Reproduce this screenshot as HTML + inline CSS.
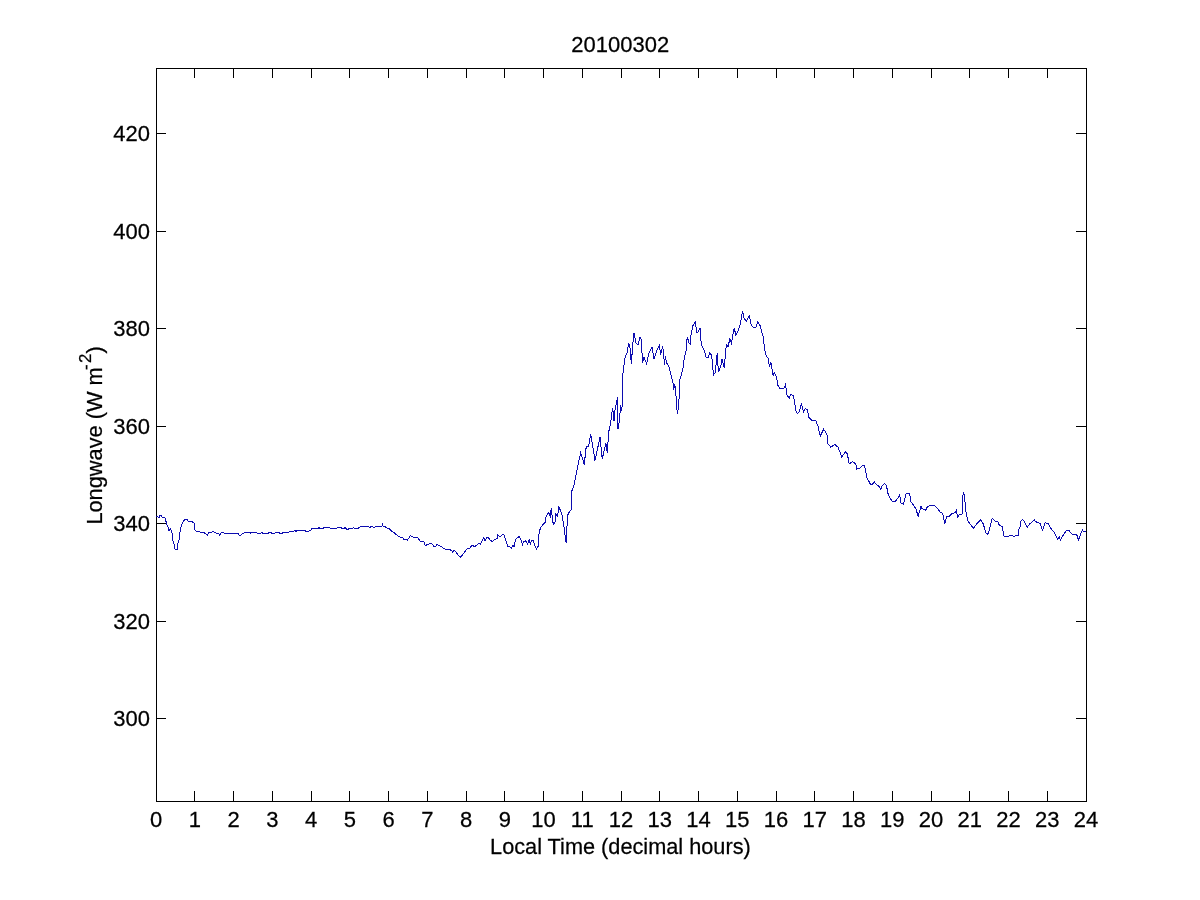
<!DOCTYPE html><html><head><meta charset="utf-8"><style>html,body{margin:0;padding:0;background:#fff;width:1200px;height:900px;overflow:hidden}svg{display:block;will-change:transform}text{font-family:"Liberation Sans",sans-serif;fill:#000;stroke:#000;stroke-width:0.25px}</style></head><body>
<svg width="1200" height="900" viewBox="0 0 1200 900">
<rect x="0" y="0" width="1200" height="900" fill="#fff"/>
<g fill="#000" shape-rendering="crispEdges"><rect x="156" y="68" width="931" height="1"/><rect x="156" y="801" width="931" height="1"/><rect x="156" y="68" width="1" height="734"/><rect x="1086" y="68" width="1" height="734"/><rect x="194" y="68" width="1" height="10"/><rect x="194" y="791" width="1" height="11"/><rect x="233" y="68" width="1" height="10"/><rect x="233" y="791" width="1" height="11"/><rect x="272" y="68" width="1" height="10"/><rect x="272" y="791" width="1" height="11"/><rect x="311" y="68" width="1" height="10"/><rect x="311" y="791" width="1" height="11"/><rect x="349" y="68" width="1" height="10"/><rect x="349" y="791" width="1" height="11"/><rect x="388" y="68" width="1" height="10"/><rect x="388" y="791" width="1" height="11"/><rect x="427" y="68" width="1" height="10"/><rect x="427" y="791" width="1" height="11"/><rect x="466" y="68" width="1" height="10"/><rect x="466" y="791" width="1" height="11"/><rect x="504" y="68" width="1" height="10"/><rect x="504" y="791" width="1" height="11"/><rect x="543" y="68" width="1" height="10"/><rect x="543" y="791" width="1" height="11"/><rect x="582" y="68" width="1" height="10"/><rect x="582" y="791" width="1" height="11"/><rect x="621" y="68" width="1" height="10"/><rect x="621" y="791" width="1" height="11"/><rect x="659" y="68" width="1" height="10"/><rect x="659" y="791" width="1" height="11"/><rect x="698" y="68" width="1" height="10"/><rect x="698" y="791" width="1" height="11"/><rect x="737" y="68" width="1" height="10"/><rect x="737" y="791" width="1" height="11"/><rect x="776" y="68" width="1" height="10"/><rect x="776" y="791" width="1" height="11"/><rect x="814" y="68" width="1" height="10"/><rect x="814" y="791" width="1" height="11"/><rect x="853" y="68" width="1" height="10"/><rect x="853" y="791" width="1" height="11"/><rect x="892" y="68" width="1" height="10"/><rect x="892" y="791" width="1" height="11"/><rect x="931" y="68" width="1" height="10"/><rect x="931" y="791" width="1" height="11"/><rect x="969" y="68" width="1" height="10"/><rect x="969" y="791" width="1" height="11"/><rect x="1008" y="68" width="1" height="10"/><rect x="1008" y="791" width="1" height="11"/><rect x="1047" y="68" width="1" height="10"/><rect x="1047" y="791" width="1" height="11"/><rect x="156" y="133" width="10" height="1"/><rect x="1076" y="133" width="11" height="1"/><rect x="156" y="231" width="10" height="1"/><rect x="1076" y="231" width="11" height="1"/><rect x="156" y="328" width="10" height="1"/><rect x="1076" y="328" width="11" height="1"/><rect x="156" y="426" width="10" height="1"/><rect x="1076" y="426" width="11" height="1"/><rect x="156" y="523" width="10" height="1"/><rect x="1076" y="523" width="11" height="1"/><rect x="156" y="621" width="10" height="1"/><rect x="1076" y="621" width="11" height="1"/><rect x="156" y="718" width="10" height="1"/><rect x="1076" y="718" width="11" height="1"/></g>
<path d="M156.00 516.25 L157.00 516.00 L158.00 517.00 L159.50 517.00 L160.00 515.50 L161.50 515.50 L161.75 517.00 L164.75 517.50 L165.50 518.50 L165.75 521.00 L166.50 522.00 L166.75 524.50 L167.75 526.00 L168.75 530.00 L169.75 530.00 L170.25 528.50 L171.50 530.50 L172.25 534.00 L172.75 540.50 L173.75 542.00 L174.50 548.50 L176.25 550.00 L177.50 549.00 L177.75 543.50 L179.25 539.50 L179.75 533.50 L180.75 529.00 L181.25 525.50 L182.25 523.50 L184.00 520.50 L184.75 519.25 L187.25 519.50 L188.00 521.25 L191.50 521.25 L192.70 522.30 L194.30 523.00 L194.70 529.70 L196.30 531.30 L199.30 531.30 L200.30 532.30 L204.00 532.70 L206.00 533.70 L207.30 535.30 L208.70 532.70 L212.00 532.00 L213.30 531.30 L215.00 532.70 L218.70 533.70 L219.70 535.30 L221.30 532.30 L223.30 532.30 L224.70 533.50 L238.00 533.50 L239.00 535.30 L240.70 535.30 L242.70 533.70 L244.70 532.30 L249.70 532.30 L250.70 533.30 L251.70 532.30 L256.70 532.30 L257.30 533.50 L260.70 533.50 L262.00 532.30 L263.00 533.50 L268.00 533.30 L270.00 532.30 L272.00 533.30 L274.70 533.30 L276.00 532.30 L278.70 532.30 L280.00 533.50 L282.00 533.50 L282.70 532.30 L288.70 532.30 L289.70 531.30 L294.00 531.30 L294.70 530.30 L295.70 531.50 L297.30 530.30 L304.70 530.30 L305.70 531.30 L308.70 531.30 L310.70 530.30 L311.70 528.30 L318.00 528.30 L319.00 527.50 L320.00 528.30 L323.30 528.30 L324.30 527.50 L329.30 527.50 L330.30 528.30 L336.70 528.30 L337.70 527.50 L340.70 527.50 L342.00 528.50 L344.00 528.50 L344.70 527.50 L346.00 528.30 L347.30 530.00 L348.70 528.70 L352.70 528.30 L353.30 527.50 L354.70 528.50 L357.70 528.50 L360.70 526.30 L368.00 526.30 L369.70 527.50 L371.30 526.30 L374.00 527.50 L376.70 526.30 L382.00 526.00 L382.30 524.30 L383.00 526.00 L384.70 526.30 L386.00 527.50 L389.30 528.70 L392.70 532.00 L394.00 532.30 L395.30 533.70 L398.00 536.00 L401.30 538.00 L402.70 537.70 L404.00 539.30 L406.00 539.30 L407.30 540.30 L410.30 535.70 L413.30 537.00 L417.70 537.30 L420.00 541.00 L424.00 541.70 L424.50 545.00 L426.00 545.30 L428.00 544.30 L430.70 543.30 L432.70 544.30 L433.70 546.30 L435.70 546.30 L436.70 544.70 L438.30 545.00 L441.30 546.70 L445.30 549.30 L448.70 549.30 L451.30 550.30 L452.70 552.30 L454.00 550.30 L456.00 552.00 L459.30 556.70 L460.30 557.30 L462.00 555.70 L464.70 552.00 L466.70 549.00 L470.00 548.00 L472.00 545.00 L474.70 546.70 L476.70 545.00 L479.30 543.30 L480.30 544.30 L483.70 537.30 L485.00 540.70 L486.70 537.30 L488.30 537.70 L490.00 540.00 L492.30 541.70 L494.00 539.70 L497.00 538.70 L497.70 534.70 L499.00 536.00 L500.70 536.70 L502.00 535.00 L503.40 534.20 L504.50 536.10 L505.90 540.60 L507.00 544.40 L507.60 546.70 L509.20 546.10 L511.40 548.30 L513.10 545.00 L514.00 546.70 L515.00 542.20 L515.90 538.90 L517.60 537.80 L519.20 536.40 L520.90 539.40 L522.60 544.40 L523.10 542.20 L525.30 540.60 L527.60 543.90 L529.20 540.00 L530.30 543.90 L532.00 540.00 L533.70 540.00 L534.20 544.40 L536.40 548.90 L538.40 546.10 L538.70 535.00 L540.30 528.30 L542.60 525.00 L545.30 522.20 L545.30 520.00 L546.40 515.60 L548.70 512.80 L550.30 516.10 L551.20 508.30 L552.00 515.00 L552.60 521.70 L553.70 523.90 L555.30 521.70 L555.90 514.40 L557.60 516.10 L558.10 512.20 L558.90 506.70 L561.80 514.00 L564.00 527.00 L566.10 542.80 L567.60 515.40 L569.00 512.50 L571.20 509.60 L571.90 490.80 L574.00 485.00 L577.70 466.20 L580.60 453.20 L582.70 459.00 L584.20 464.80 L586.30 446.00 L588.50 446.70 L590.70 433.70 L595.00 460.50 L600.00 437.30 L602.20 459.00 L605.90 443.10 L607.30 453.20 L608.70 432.00 L610.70 422.70 L612.00 412.00 L612.70 408.00 L614.00 421.30 L615.30 406.70 L616.70 402.70 L617.30 396.70 L618.00 429.30 L619.30 421.30 L620.70 405.30 L621.70 410.70 L622.70 398.70 L623.00 373.30 L624.70 358.70 L627.30 352.00 L628.70 342.70 L630.00 348.00 L631.30 364.00 L632.70 345.30 L634.00 332.70 L636.00 343.30 L638.00 345.30 L640.00 336.70 L641.30 340.00 L642.00 353.30 L642.70 362.70 L644.00 357.30 L646.70 364.00 L648.70 353.30 L652.00 346.70 L654.00 358.70 L656.70 350.70 L659.30 345.30 L660.70 354.70 L662.70 346.00 L664.70 365.30 L665.20 356.50 L667.10 363.80 L668.90 366.20 L671.30 376.00 L673.20 383.30 L673.80 389.50 L674.40 384.60 L675.60 387.00 L676.20 400.50 L677.40 413.90 L678.70 405.40 L679.90 379.70 L681.10 376.00 L682.30 371.10 L683.60 365.00 L684.20 357.70 L686.00 351.60 L687.20 336.90 L689.10 343.00 L690.30 344.20 L690.90 335.70 L692.70 325.90 L695.20 322.20 L697.00 333.20 L699.50 329.60 L700.00 328.30 L701.30 344.20 L704.30 350.30 L706.20 357.70 L708.00 357.70 L709.80 352.80 L711.70 355.20 L713.50 374.80 L715.30 372.30 L717.20 352.80 L718.40 372.30 L721.50 363.80 L722.00 358.90 L724.20 367.80 L725.30 355.60 L726.40 344.40 L728.10 346.70 L729.80 338.90 L731.40 343.30 L734.20 327.80 L735.90 335.60 L738.10 331.10 L740.30 324.40 L742.60 311.10 L744.20 318.90 L746.40 321.10 L749.20 315.60 L751.40 325.60 L754.20 327.80 L755.90 327.20 L757.60 321.70 L760.30 326.10 L763.10 336.70 L764.80 350.00 L766.40 356.70 L768.70 358.90 L769.20 366.70 L770.90 362.20 L773.10 375.60 L774.20 372.20 L776.40 376.70 L778.00 385.60 L780.20 388.90 L784.70 387.80 L785.80 383.30 L786.30 393.90 L789.10 398.30 L790.80 394.40 L793.60 396.10 L796.30 412.80 L798.00 413.30 L799.70 410.60 L801.30 403.90 L803.60 411.70 L805.20 408.90 L807.40 409.40 L808.60 417.20 L811.30 420.00 L815.80 420.60 L818.00 426.10 L820.20 436.10 L823.60 429.40 L826.90 433.90 L828.00 443.90 L830.80 447.20 L834.70 444.40 L838.00 447.20 L841.90 457.20 L845.20 451.70 L847.40 453.90 L849.10 463.90 L852.40 461.70 L855.80 463.90 L856.80 469.00 L859.50 468.60 L862.20 465.50 L864.60 465.50 L866.10 473.70 L866.90 477.60 L870.40 484.20 L872.30 484.20 L874.30 481.80 L876.20 484.50 L879.30 486.50 L880.90 489.20 L882.00 486.10 L884.40 483.40 L886.70 486.10 L887.50 492.30 L890.20 498.50 L892.90 502.00 L895.70 500.90 L898.80 497.00 L899.50 493.90 L901.10 503.20 L903.40 504.40 L906.20 493.50 L909.70 493.50 L910.80 501.70 L912.00 503.20 L915.90 508.70 L918.20 516.40 L920.90 506.30 L922.10 508.70 L926.00 510.20 L927.50 506.30 L934.00 505.30 L936.00 506.70 L939.30 510.70 L940.70 512.70 L942.70 513.30 L944.70 524.00 L947.00 516.00 L949.30 516.30 L952.00 513.30 L955.30 512.70 L956.30 510.70 L957.70 517.00 L960.00 514.00 L962.00 514.70 L962.70 497.30 L963.30 492.30 L964.30 495.30 L965.00 502.00 L966.00 512.00 L968.00 521.30 L973.30 528.30 L977.30 523.30 L980.70 520.00 L983.30 524.00 L986.00 533.30 L987.70 534.30 L989.30 530.00 L992.30 518.30 L995.30 521.30 L998.00 521.70 L999.30 525.30 L1002.00 526.30 L1004.00 536.00 L1006.00 537.00 L1008.70 536.00 L1012.00 535.40 L1014.00 536.40 L1015.90 535.40 L1018.20 535.40 L1018.50 529.90 L1020.50 526.00 L1020.80 521.10 L1022.40 519.50 L1024.40 521.50 L1027.30 527.30 L1029.60 524.10 L1032.80 521.10 L1034.40 519.50 L1035.40 521.50 L1038.00 522.80 L1040.00 523.40 L1042.60 530.20 L1045.20 522.80 L1048.40 523.70 L1051.70 529.90 L1054.30 532.50 L1057.50 539.00 L1059.50 537.10 L1060.40 540.30 L1064.00 533.80 L1066.60 530.20 L1069.20 530.90 L1072.50 534.50 L1075.70 534.10 L1077.30 535.80 L1078.30 540.30 L1081.60 531.90 L1082.50 530.00 L1083.50 531.50 L1086.00 531.50" fill="none" stroke="#0c0cb0" stroke-width="1" stroke-linejoin="miter" shape-rendering="crispEdges"/>
<text transform="translate(156.00,827.00) scale(1.0,1.02)" font-size="22" text-anchor="middle">0</text>
<text transform="translate(194.75,827.00) scale(1.0,1.02)" font-size="22" text-anchor="middle">1</text>
<text transform="translate(233.50,827.00) scale(1.0,1.02)" font-size="22" text-anchor="middle">2</text>
<text transform="translate(272.25,827.00) scale(1.0,1.02)" font-size="22" text-anchor="middle">3</text>
<text transform="translate(311.00,827.00) scale(1.0,1.02)" font-size="22" text-anchor="middle">4</text>
<text transform="translate(349.75,827.00) scale(1.0,1.02)" font-size="22" text-anchor="middle">5</text>
<text transform="translate(388.50,827.00) scale(1.0,1.02)" font-size="22" text-anchor="middle">6</text>
<text transform="translate(427.25,827.00) scale(1.0,1.02)" font-size="22" text-anchor="middle">7</text>
<text transform="translate(466.00,827.00) scale(1.0,1.02)" font-size="22" text-anchor="middle">8</text>
<text transform="translate(504.75,827.00) scale(1.0,1.02)" font-size="22" text-anchor="middle">9</text>
<text transform="translate(543.50,827.00) scale(1.0,1.02)" font-size="22" text-anchor="middle">10</text>
<text transform="translate(582.25,827.00) scale(1.0,1.02)" font-size="22" text-anchor="middle">11</text>
<text transform="translate(621.00,827.00) scale(1.0,1.02)" font-size="22" text-anchor="middle">12</text>
<text transform="translate(659.75,827.00) scale(1.0,1.02)" font-size="22" text-anchor="middle">13</text>
<text transform="translate(698.50,827.00) scale(1.0,1.02)" font-size="22" text-anchor="middle">14</text>
<text transform="translate(737.25,827.00) scale(1.0,1.02)" font-size="22" text-anchor="middle">15</text>
<text transform="translate(776.00,827.00) scale(1.0,1.02)" font-size="22" text-anchor="middle">16</text>
<text transform="translate(814.75,827.00) scale(1.0,1.02)" font-size="22" text-anchor="middle">17</text>
<text transform="translate(853.50,827.00) scale(1.0,1.02)" font-size="22" text-anchor="middle">18</text>
<text transform="translate(892.25,827.00) scale(1.0,1.02)" font-size="22" text-anchor="middle">19</text>
<text transform="translate(931.00,827.00) scale(1.0,1.02)" font-size="22" text-anchor="middle">20</text>
<text transform="translate(969.75,827.00) scale(1.0,1.02)" font-size="22" text-anchor="middle">21</text>
<text transform="translate(1008.50,827.00) scale(1.0,1.02)" font-size="22" text-anchor="middle">22</text>
<text transform="translate(1047.25,827.00) scale(1.0,1.02)" font-size="22" text-anchor="middle">23</text>
<text transform="translate(1086.00,827.00) scale(1.0,1.02)" font-size="22" text-anchor="middle">24</text>
<text transform="translate(150.00,726.00) scale(1.0,1.02)" font-size="22" text-anchor="end">300</text>
<text transform="translate(150.00,629.00) scale(1.0,1.02)" font-size="22" text-anchor="end">320</text>
<text transform="translate(150.00,531.00) scale(1.0,1.02)" font-size="22" text-anchor="end">340</text>
<text transform="translate(150.00,434.00) scale(1.0,1.02)" font-size="22" text-anchor="end">360</text>
<text transform="translate(150.00,336.00) scale(1.0,1.02)" font-size="22" text-anchor="end">380</text>
<text transform="translate(150.00,239.00) scale(1.0,1.02)" font-size="22" text-anchor="end">400</text>
<text transform="translate(150.00,141.00) scale(1.0,1.02)" font-size="22" text-anchor="end">420</text>
<text transform="translate(620.30,52.00) scale(1.0,1.02)" font-size="22" text-anchor="middle">20100302</text>
<text transform="translate(620.40,854.00) scale(0.9875,1.02)" font-size="22" text-anchor="middle">Local Time (decimal hours)</text>
<text transform="translate(102,524.6) rotate(-90) scale(0.99,1.02)" font-size="22" text-anchor="start">Longwave (W m<tspan font-size="17" dy="-10.6" dx="-2.7">-</tspan><tspan font-size="17" dx="1.4">2</tspan><tspan dy="10.6">)</tspan></text>
</svg></body></html>
